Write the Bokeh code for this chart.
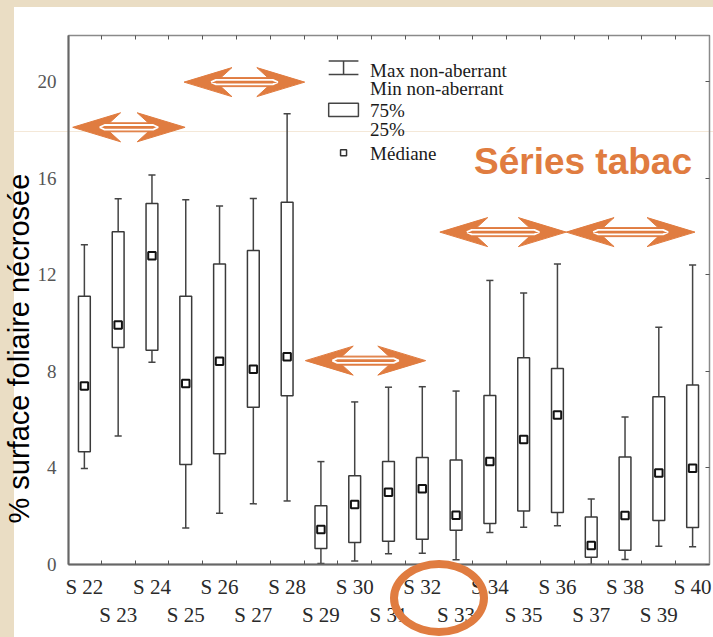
import math
from bokeh.plotting import figure
from bokeh.models import (Range1d, LinearAxis, FixedTicker, Label, Title, InlineStyleSheet)
from bokeh.embed import file_html
from bokeh.resources import INLINE

# ---------------- data ----------------
series = ["S 22", "S 23", "S 24", "S 25", "S 26", "S 27", "S 28", "S 29", "S 30", "S 31",
          "S 32", "S 33", "S 34", "S 35", "S 36", "S 37", "S 38", "S 39", "S 40"]
x_pos = list(range(22, 41))
whisker_max = [13.24, 15.14, 16.13, 15.10, 14.84, 15.15, 18.66, 4.26, 6.73, 7.34,
               7.36, 7.18, 11.76, 11.24, 12.44, 2.71, 6.11, 9.82, 12.40]
q3 = [11.11, 13.78, 14.95, 11.11, 12.44, 13.00, 15.00, 2.43, 3.67, 4.26,
      4.43, 4.33, 7.00, 8.56, 8.11, 1.97, 4.45, 6.94, 7.43]
median = [7.39, 9.91, 12.78, 7.49, 8.41, 8.08, 8.60, 1.45, 2.48, 2.99,
          3.14, 2.04, 4.26, 5.18, 6.19, 0.79, 2.03, 3.79, 3.98]
q1 = [4.67, 8.98, 8.87, 4.14, 4.59, 6.51, 6.99, 0.66, 0.91, 0.96,
      1.05, 1.42, 1.70, 2.22, 2.15, 0.30, 0.59, 1.82, 1.53]
whisker_min = [3.97, 5.32, 8.37, 1.51, 2.12, 2.51, 2.63, 0.04, 0.14, 0.44,
               0.47, 0.20, 1.32, 1.54, 1.60, 0.00, 0.21, 0.76, 0.73]
y_ticks = [0, 4, 8, 12, 16, 20]
y_tick_labels = ["0", "4", "8", "12", "16", "20"]

legend_labels = ["Max non-aberrant", "Min non-aberrant", "75%", "25%", "Médiane"]
y_label = "% surface foliaire nécrosée"
title_text = "Séries tabac"

ORANGE = "#E07C40"
BEIGE = "#EADDC4"

# ---------------- figure ----------------
X0, X1 = 21.53, 40.5
Y0, Y1 = 0.0, 21.9
W, H = 713, 637
ML, MR, MT, MB = 66, 4, 35, 73

p = figure(width=W, height=H, x_range=Range1d(X0, X1), y_range=Range1d(Y0, Y1),
           output_backend="svg", toolbar_location=None,
           min_border_left=ML, min_border_right=MR, min_border_top=MT, min_border_bottom=MB,
           background_fill_color=None, border_fill_color=None,
           outline_line_color="#8a8a8a", outline_line_width=1.5)
p.xgrid.visible = False
p.ygrid.visible = False

# page decoration (beige slide edge, faint guide line, orange ring round S 32 / S 33)
p.stylesheets = [InlineStyleSheet(css=f"""
:host {{
  position: relative;
  background:
    linear-gradient(to right, {BEIGE} 0px, {BEIGE} 14px, rgba(0,0,0,0) 14px),
    linear-gradient(to bottom, {BEIGE} 0px, {BEIGE} 7px, rgba(0,0,0,0) 7px),
    linear-gradient(to bottom, rgba(0,0,0,0) 131px, #F4E8D8 131px, #F4E8D8 132px, rgba(0,0,0,0) 132px),
    #ffffff;
}}
:host::after {{
  content: "";
  position: absolute;
  box-sizing: border-box;
  left: 390px; top: 560px; width: 98px; height: 76px;
  border: 8px solid {ORANGE};
  border-radius: 50%;
  pointer-events: none;
}}
""")]

PX_X = (W - ML - MR) / (X1 - X0)
PX_Y = (H - MT - MB) / (Y1 - Y0)

# bottom axis with two-row labels
mids = [x - 0.5 for x in x_pos] + [x_pos[-1] + 0.5]
xa = p.xaxis[0]
xa.ticker = FixedTicker(ticks=x_pos, minor_ticks=mids)
xa.major_label_overrides = {x: (s if i % 2 == 0 else "\n" + s) for i, (x, s) in enumerate(zip(x_pos, series))}
xa.major_tick_in = 0
xa.major_tick_out = 0
xa.minor_tick_in = 4
xa.minor_tick_out = 0
xa.minor_tick_line_color = "#555555"
xa.axis_line_color = "#666666"
xa.axis_line_width = 2
xa.major_label_text_font = "Liberation Serif"
xa.major_label_text_font_size = "21px"
xa.major_label_text_color = "#2a2a2a"
xa.major_label_standoff = 10

ya = p.yaxis[0]
ya.ticker = FixedTicker(ticks=y_ticks)
ya.major_label_overrides = {t: s for t, s in zip(y_ticks, y_tick_labels)}
ya.major_tick_in = 0
ya.major_tick_out = 0
ya.minor_tick_in = 0
ya.minor_tick_out = 0
ya.axis_line_color = "#666666"
ya.axis_line_width = 2
ya.major_label_text_font = "Liberation Serif"
ya.major_label_text_font_size = "19px"
ya.major_label_text_color = "#555555"
ya.major_label_standoff = 12

top = LinearAxis(ticker=FixedTicker(ticks=x_pos, minor_ticks=mids),
                 major_label_overrides={x: "" for x in x_pos},
                 major_tick_in=0, major_tick_out=0, minor_tick_in=4, minor_tick_out=0,
                 minor_tick_line_color="#555555", axis_line_color="#8a8a8a",
                 major_label_standoff=0)
p.add_layout(top, "above")
right = LinearAxis(ticker=FixedTicker(ticks=y_ticks),
                   major_label_overrides={t: "" for t in y_ticks},
                   major_tick_in=4, major_tick_out=0, minor_tick_in=0, minor_tick_out=0,
                   major_tick_line_color="#555555", axis_line_color="#8a8a8a",
                   major_label_standoff=0)
p.add_layout(right, "right")

# y axis title (offset along the axis like the original)
p.add_layout(Title(text=y_label, align="left", offset=41, vertical_align="bottom",
                   text_font="Liberation Sans", text_font_size="29px",
                   text_font_style="normal", text_color="black", standoff=0), "left")

# ---------------- box plots ----------------
BOX_W = 0.35
CAP = 0.105
p.segment(x0=x_pos, y0=q3, x1=x_pos, y1=whisker_max, line_color="#444444", line_width=1.5)
p.segment(x0=x_pos, y0=q1, x1=x_pos, y1=whisker_min, line_color="#444444", line_width=1.5)
p.segment(x0=[x - CAP for x in x_pos], y0=whisker_max, x1=[x + CAP for x in x_pos], y1=whisker_max,
          line_color="#444444", line_width=1.5)
p.segment(x0=[x - CAP for x in x_pos], y0=whisker_min, x1=[x + CAP for x in x_pos], y1=whisker_min,
          line_color="#444444", line_width=1.5)
p.vbar(x=x_pos, width=BOX_W, top=q3, bottom=q1, fill_color="white",
       line_color="#3a3a3a", line_width=1.5)
p.scatter(x=x_pos, y=median, marker="square", size=7.5, line_width=2,
          line_color="#111111", fill_color="white")

# ---------------- legend (drawn) ----------------
LX0, LX1 = 29.23, 30.11
LXC = (LX0 + LX1) / 2
p.segment(x0=[LX0, LX0, LXC], y0=[20.84, 20.29, 20.84], x1=[LX1, LX1, LXC], y1=[20.84, 20.29, 20.29],
          line_color="#444444", line_width=1.5)
p.quad(left=[LX0], right=[LX1], top=[19.10], bottom=[18.55], fill_color="white",
       line_color="#444444", line_width=1.5)
p.scatter(x=[LXC], y=[17.05], marker="square", size=6, line_width=1.5,
          line_color="#333333", fill_color="white")
leg_y = [20.45, 19.70, 18.80, 18.01, 17.01]
for txt, yy in zip(legend_labels, leg_y):
    p.add_layout(Label(x=30.455, y=yy, text=txt, text_font="Liberation Serif",
                       text_font_size="19px", text_color="#1a1a1a",
                       text_baseline="alphabetic", text_align="left"))

# ---------------- orange arrows ----------------
arrows_x0 = [21.655, 24.95, 28.54, 32.52, 36.26]
arrows_x1 = [24.98, 28.52, 32.10, 36.26, 40.07]
arrows_y = [18.10, 19.97, 8.44, 13.76, 13.76]

def arrow_shape(xa0, xa1, yc):
    h = (xa1 - xa0) * PX_X / 2
    xc = (xa0 + xa1) / 2
    body = [(-h, 0), (-h + 48, 14.5), (-h + 37, 4.5), (h - 37, 4.5), (h - 48, 14.5), (h, 0),
            (h - 48, -14.5), (h - 37, -4.5), (-h + 37, -4.5), (-h + 48, -14.5)]
    inner = [(-h + 27, 0), (-h + 32, 2.3), (h - 32, 2.3), (h - 27, 0), (h - 32, -2.3),
             (-h + 32, -2.3), (-h + 27, 0)]
    conv = lambda pts: ([xc + a / PX_X for a, _ in pts], [yc + b / PX_Y for _, b in pts])
    return conv(body), conv(inner)

bxs, bys, ixs, iys = [], [], [], []
for a0, a1, yc in zip(arrows_x0, arrows_x1, arrows_y):
    (bx, by), (ix, iy) = arrow_shape(a0, a1, yc)
    bxs.append(bx); bys.append(by); ixs.append(ix); iys.append(iy)
p.patches(xs=bxs, ys=bys, fill_color=ORANGE, line_color=ORANGE, line_width=1)
p.multi_line(xs=ixs, ys=iys, line_color="white", line_width=1.8)

# ---------------- texts ----------------
p.add_layout(Label(x=33.53, y=16.68, text=title_text, text_font="Liberation Sans",
                   text_font_size="37px", text_font_style="bold", text_color=ORANGE,
                   text_baseline="alphabetic", text_align="left"))

open("out.html", "w").write(file_html(p, INLINE))
